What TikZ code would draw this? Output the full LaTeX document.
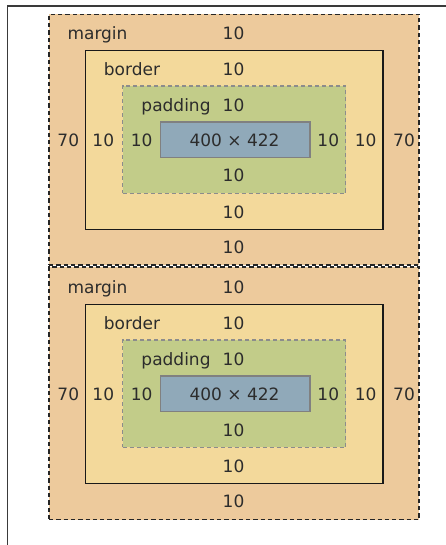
\documentclass[tikz,border=0pt]{standalone}
\usepackage{fontspec}
\setmainfont{DejaVu Sans}
\definecolor{marginfill}{HTML}{EDCA9C}
\definecolor{borderfill}{HTML}{F3D99B}
\definecolor{paddingfill}{HTML}{C2CC89}
\definecolor{contentfill}{HTML}{90A9B9}
\definecolor{txt}{HTML}{2C2C2C}
\definecolor{framecol}{HTML}{3A3A3A}
\tikzset{
  boxbase/.style={rectangle, inner sep=0pt, outer sep=0pt, anchor=north west},
  marginbox/.style={boxbase, fill=marginfill, draw=black!85, line width=1.8pt, dash pattern=on 4.3pt off 3pt},
  borderbox/.style={boxbase, fill=borderfill, draw=black!90, line width=1.8pt},
  paddingbox/.style={boxbase, fill=paddingfill, draw=black!45, line width=1.2pt, dash pattern=on 4pt off 3pt},
  contentbox/.style={boxbase, fill=contentfill, draw=black!50, line width=1.2pt},
  lbl/.style={text=txt, font=\fontsize{17}{20}\selectfont, inner sep=0pt, anchor=base}
}
\begin{document}
\begin{tikzpicture}[x=1pt, y=-1pt]
\useasboundingbox (0,0) rectangle (446,545);
\fill[white] (0,0) rectangle (446,545);
\foreach \p/\o/\mt/\mh in {a/0/14.5/250.8, b/254/267/252.5}{
  \node[marginbox, minimum width=370.3pt, minimum height=\mh pt] (\p-margin) at (49,\mt) {};
  \node[borderbox, minimum width=297.8pt, minimum height=179pt] (\p-border) at (85.5,50.5+\o) {};
  \node[paddingbox, minimum width=223.2pt, minimum height=107.3pt] (\p-padding) at (122.5,86+\o) {};
  \node[contentbox, minimum width=149.7pt, minimum height=35.3pt] (\p-content) at (160.3,122+\o) {};
  % labels
  \node[lbl] (\p-mlab) at (97.5,39.3+\o) {margin};
  \node[lbl] (\p-mtop) at (233.5,39.3+\o) {10};
  \node[lbl] (\p-blab) at (132,75.3+\o) {border};
  \node[lbl] (\p-btop) at (233.5,75.3+\o) {10};
  \node[lbl] (\p-plab) at (176,111.3+\o) {padding};
  \node[lbl] (\p-ptop) at (233.5,111.3+\o) {10};
  \node[lbl] (\p-mleft) at (68.3,146.5+\o) {70};
  \node[lbl] (\p-bleft) at (103.3,146.5+\o) {10};
  \node[lbl] (\p-pleft) at (141.7,146.5+\o) {10};
  \node[lbl] (\p-ctext) at (234.5,146.5+\o) {400 × 422};
  \node[lbl] (\p-pright) at (328.3,146.5+\o) {10};
  \node[lbl] (\p-bright) at (365.7,146.5+\o) {10};
  \node[lbl] (\p-mright) at (404,146.5+\o) {70};
  \node[lbl] (\p-pbot) at (233.5,182+\o) {10};
  \node[lbl] (\p-bbot) at (233.5,218+\o) {10};
  \node[lbl] (\p-mbot) at (233.5,253.6+\o) {10};
}
% outer frame
\draw[framecol, line width=1.5pt] (7.5,545) -- (7.5,6) -- (446,6);
\end{tikzpicture}
\end{document}
